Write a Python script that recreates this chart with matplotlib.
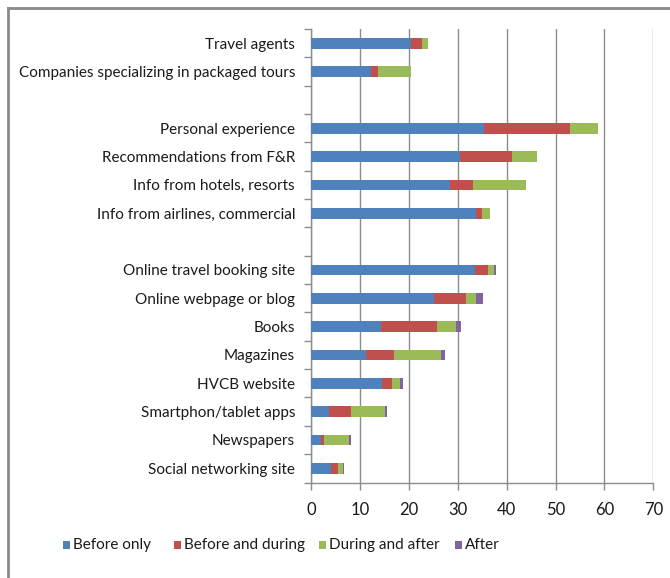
import numpy as np
import matplotlib
matplotlib.use('Agg')
import matplotlib.pyplot as plt
from matplotlib.patches import Rectangle
from matplotlib.lines import Line2D

# Data, top to bottom; '' = blank spacer row
categories = ['Travel agents', 'Companies specializing in packaged tours', '',
              'Personal experience', 'Recommendations from F&R', 'Info from hotels, resorts',
              'Info from airlines, commercial', '',
              'Online travel booking site', 'Online webpage or blog', 'Books', 'Magazines',
              'HVCB website', 'Smartphon/tablet apps', 'Newspapers', 'Social networking site']
before_only = [20.5, 12.3, 0, 35.3, 30.4, 28.4, 33.8, 0, 33.6, 25.1, 14.3, 11.2, 14.5, 3.6, 2.0, 4.1]
before_during = [2.3, 1.4, 0, 17.6, 10.7, 4.8, 1.1, 0, 2.6, 6.6, 11.5, 5.8, 2.1, 4.6, 0.6, 1.4]
during_after = [1.1, 6.7, 0, 5.8, 5.2, 10.7, 1.7, 0, 1.2, 2.1, 3.9, 9.6, 1.6, 7.0, 5.2, 1.0]
after = [0, 0, 0, 0, 0, 0, 0, 0, 0.5, 1.3, 0.9, 0.8, 0.6, 0.3, 0.4, 0.3]
series_names = ['Before only', 'Before and during', 'During and after', 'After']
colors = ['#4F81BD', '#C0504D', '#9BBB59', '#8064A2']

plt.rcParams['font.family'] = ['Lato', 'DejaVu Sans']
grid_col = '#8c8c8c'
text_col = '#1a1a1a'

W, H = 670, 578
fig = plt.figure(figsize=(W / 100, H / 100), dpi=100)
ax = fig.add_axes([311 / W, 1 - 482.5 / H, (653.3 - 311) / W, (482.5 - 29) / H])

y = np.arange(len(categories))
left = np.zeros(len(categories))
for vals, col in zip([before_only, before_during, during_after, after], colors):
    vals = np.array(vals)
    ax.barh(y, vals, left=left, height=0.38, color=col, zorder=3)
    left += vals

ax.set_xlim(0, 70)
ax.set_ylim(len(categories) - 0.5, -0.5)
ax.set_xticks(np.arange(0, 71, 10))
ax.xaxis.grid(True, color=grid_col, linewidth=1, zorder=0)
ax.set_yticks(y)
ax.set_yticklabels(categories, fontsize=11, color=text_col)
ax.set_yticks(np.arange(-0.5, len(categories)), minor=True)
ax.tick_params(axis='y', which='major', length=0, pad=11.5)
ax.tick_params(axis='y', which='minor', length=5, color=grid_col, width=1)
ax.tick_params(axis='x', length=5, color=grid_col, width=1, labelsize=12, pad=9, labelcolor=text_col)
for s in ['top', 'right']:
    ax.spines[s].set_visible(False)
for s in ['left', 'bottom']:
    ax.spines[s].set_color(grid_col)
    ax.spines[s].set_linewidth(1)

# legend drawn by hand, Excel style (square key + label)
key_x = [63, 174, 319, 455]
for kx, name, col in zip(key_x, series_names, colors):
    fig.add_artist(Rectangle((kx / W, 1 - 549 / H), 7 / W, 8 / H, transform=fig.transFigure,
                             facecolor=col, edgecolor='none'))
    fig.text((kx + 10) / W, 1 - 545 / H, name, fontsize=11, color=text_col, va='center', ha='left')

# outer frame (top and left edges visible in the reference)
fig.add_artist(Line2D([8 / W, 1], [1 - 8 / H, 1 - 8 / H], transform=fig.transFigure,
                      color='#8a8a8a', linewidth=2))
fig.add_artist(Line2D([8 / W, 8 / W], [0, 1 - 8 / H], transform=fig.transFigure,
                      color='#8a8a8a', linewidth=2))

fig.savefig('out.png', dpi=100)
